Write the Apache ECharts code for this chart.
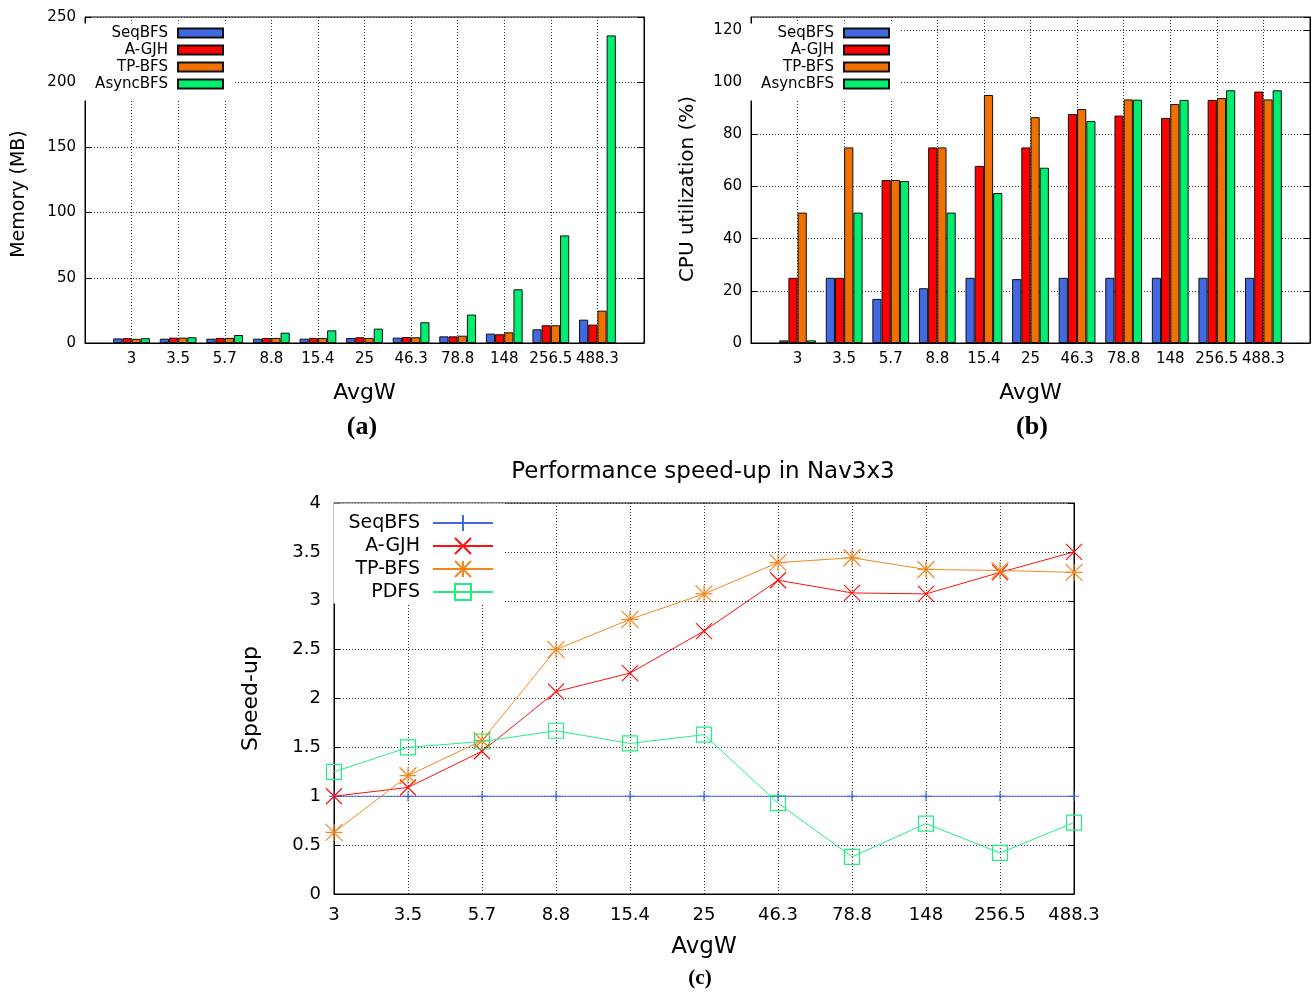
<!DOCTYPE html>
<html>
<head>
<meta charset="utf-8">
<script src="https://cdn.jsdelivr.net/npm/echarts@6/dist/echarts.min.js"></script>
<style>
  html, body { margin: 0; padding: 0; background: #fff; }
  #main { width: 1313px; height: 992px; }
</style>
</head>
<body>
<div id="main"></div>
<script>
// categories (AvgW)
var categories = ['3', '3.5', '5.7', '8.8', '15.4', '25', '46.3', '78.8', '148', '256.5', '488.3'];
var barNames = ['SeqBFS', 'A-GJH', 'TP-BFS', 'AsyncBFS'];
var lineNames = ['SeqBFS', 'A-GJH', 'TP-BFS', 'PDFS'];

// (a) memory, MB
var memSeq   = [3.5, 3.3, 3.3, 3.3, 3.3, 3.8, 4.1, 5.1, 7.2, 10.5, 17.9];
var memAgjh  = [3.7, 4.1, 3.9, 3.9, 3.9, 4.4, 4.6, 5.1, 6.7, 13.6, 14.1];
var memTp    = [3.2, 4.1, 3.9, 3.9, 3.9, 3.9, 4.4, 5.6, 8.2, 13.6, 24.8];
var memAsync = [3.7, 4.4, 6.1, 7.9, 9.7, 11.0, 15.9, 21.8, 41.2, 82.5, 235.9];

// (b) CPU utilization, %
var cpuSeq   = [1, 25, 16.9, 21, 25, 24.5, 25, 25, 25, 25, 25];
var cpuAgjh  = [25, 25, 62.5, 75, 67.9, 75, 87.8, 87.2, 86.3, 93.2, 96.4];
var cpuTp    = [50, 75, 62.5, 75, 95.1, 86.6, 89.7, 93.4, 91.6, 93.9, 93.4];
var cpuAsync = [1, 50, 62.1, 50, 57.5, 67.2, 85.1, 93.3, 93.2, 96.9, 96.9];

// (c) speed-up
var spSeq  = [1, 1, 1, 1, 1, 1, 1, 1, 1, 1, 1];
var spAgjh = [1.0, 1.09, 1.46, 2.07, 2.26, 2.69, 3.21, 3.08, 3.07, 3.29, 3.50];
var spTp   = [0.63, 1.21, 1.57, 2.50, 2.81, 3.07, 3.39, 3.44, 3.32, 3.31, 3.29];
var spPdfs = [1.25, 1.50, 1.56, 1.67, 1.54, 1.63, 0.93, 0.38, 0.72, 0.42, 0.73];

var barColors = ['#4169e1', '#ff0000', '#f07000', '#00ee6e'];
var lineColors = ['#4169e1', '#ff1010', '#f5861f', '#22ee80'];
var sans = 'DejaVu Sans';

var gridLine = { color: '#333', width: 1, type: [1, 2] };

// half-slot padding at both ends, like the gnuplot histogram
var padCats = [''].concat(categories, ['']);
function pad(arr) { return [null].concat(arr, [null]); }

function barX(gi) {
    return {
        gridIndex: gi, type: 'category', data: padCats, boundaryGap: false,
        axisLine: { lineStyle: { color: '#000' } },
        axisTick: { show: false },
        axisLabel: { interval: 0, fontSize: 15, color: '#000', margin: 9 },
        splitLine: { show: true, lineStyle: gridLine },
        name: 'AvgW', nameLocation: 'middle', nameGap: 39,
        nameTextStyle: { fontSize: 22, color: '#000' }
    };
}
function mainY(gi, max, step, name, gap, nameSize, labSize, margin) {
    return {
        gridIndex: gi, type: 'value', min: 0, max: max, interval: step,
        axisLine: { show: true, lineStyle: { color: '#000' } },
        axisTick: { show: true, inside: true, length: 6, lineStyle: { color: '#000' } },
        axisLabel: { fontSize: labSize, color: '#000', margin: margin, showMaxLabel: max % step === 0 },
        splitLine: { show: true, lineStyle: gridLine },
        name: name, nameLocation: 'middle', nameGap: gap,
        nameTextStyle: { fontSize: nameSize, color: '#000' }
    };
}
function mirrorY(gi, max, step) {
    return {
        gridIndex: gi, type: 'value', position: 'right', min: 0, max: max, interval: step,
        axisLine: { show: true, lineStyle: { color: '#000' } },
        axisTick: { show: true, inside: true, length: 6, lineStyle: { color: '#000' } },
        axisLabel: { show: false },
        splitLine: { show: false }
    };
}
function bars(gi, yi, list) {
    return list.map(function (vals, i) {
        return {
            type: 'bar', name: barNames[i], xAxisIndex: gi, yAxisIndex: yi,
            data: pad(vals), barGap: '0%', barCategoryGap: '21%',
            itemStyle: { color: barColors[i], borderColor: '#111', borderWidth: 1 },
            emphasis: { disabled: true }
        };
    });
}

var symbols = [
    'path://M0,5H10M5,0V10',
    'path://M0,0L10,10M10,0L0,10',
    'path://M0,0L10,10M10,0L0,10M0,5H10M5,0V10',
    'path://M0,0H10V10H0Z'
];
var symbolSizes = [10, 16, 17, 15];

var lineSeries = [spSeq, spAgjh, spTp, spPdfs].map(function (vals, i) {
    return {
        type: 'line', name: 'c.' + lineNames[i], xAxisIndex: 2, yAxisIndex: 4,
        data: vals, symbol: symbols[i], symbolSize: symbolSizes[i], showAllSymbol: true,
        lineStyle: { color: lineColors[i], width: 1 },
        itemStyle: { color: 'rgba(0,0,0,0)', borderColor: lineColors[i], borderWidth: 1.2 },
        emphasis: { disabled: true }, z: 2 + i
    };
});

function barLegend(right) {
    return {
        data: barNames, orient: 'vertical', align: 'right', right: right, top: 23.5,
        padding: [1, 9, 8, 13], itemGap: 0, itemWidth: 45, itemHeight: 9, icon: 'rect',
        backgroundColor: '#fff', selectedMode: false,
        textStyle: { fontSize: 15, color: '#000', lineHeight: 17, padding: [0, 5, 0, 0] }
    };
}

function label(text, x, y, font, rot) {
    return {
        type: 'text', x: x, y: y, rotation: rot || 0,
        style: { text: text, font: font, fill: '#000', align: 'center', verticalAlign: 'middle',
                 textAlign: 'center', textVerticalAlign: 'middle' }
    };
}

var chart = echarts.init(document.getElementById('main'));
var option = {
    animation: false,
    textStyle: { fontFamily: sans },
    grid: [
        { left: 85, top: 17, width: 559, height: 326, show: true, borderColor: '#000', borderWidth: 1 },
        { left: 751, top: 17, width: 559, height: 326, show: true, borderColor: '#000', borderWidth: 1 },
        { left: 334, top: 503, width: 740, height: 391, show: true, borderColor: '#000', borderWidth: 1 }
    ],
    xAxis: [
        barX(0),
        barX(1),
        {
            gridIndex: 2, type: 'category', data: categories, boundaryGap: false,
            axisLine: { lineStyle: { color: '#000' } },
            axisTick: { show: false },
            axisLabel: { interval: 0, fontSize: 18, color: '#000', margin: 12 },
            splitLine: { show: true, lineStyle: gridLine },
            name: 'AvgW', nameLocation: 'middle', nameGap: 42,
            nameTextStyle: { fontSize: 23, color: '#000' }
        }
    ],
    yAxis: [
        mainY(0, 250, 50, '', 53, 18, 15, 9),
        mirrorY(0, 250, 50),
        mainY(1, 125, 20, '', 54, 20, 15, 9),
        mirrorY(1, 125, 20),
        mainY(2, 4, 0.5, 'Speed-up', 72, 22, 18, 13),
        mirrorY(2, 4, 0.5)
    ],
    legend: [
        barLegend(1080),
        barLegend(414),
        {
            data: lineNames.map(function (n) { return 'c.' + n; }),
            formatter: function (n) { return n.slice(2); },
            orient: 'vertical', align: 'right', right: 808, top: 503.5,
            padding: [8, 11, 0, 15], itemGap: 0, itemWidth: 60, itemHeight: 20,
            backgroundColor: '#fff', selectedMode: false,
            textStyle: { fontSize: 19, color: '#000', lineHeight: 23, padding: [0, 8, 0, 0] }
        }
    ],
    series: bars(0, 0, [memSeq, memAgjh, memTp, memAsync])
        .concat(bars(1, 2, [cpuSeq, cpuAgjh, cpuTp, cpuAsync]))
        .concat(lineSeries),
    graphic: [
        label('Memory (MB)', 19, 194, '19px "DejaVu Sans"', Math.PI / 2),
        label('CPU utilization (%)', 688, 189, '20px "DejaVu Sans"', Math.PI / 2),
        label('(a)', 362, 427, 'bold 26px "Liberation Serif"'),
        label('(b)', 1032, 427, 'bold 26px "Liberation Serif"'),
        label('(c)', 700, 979, 'bold 21px "Liberation Serif"'),
        label('Performance speed-up in Nav3x3', 703, 472, '23px "DejaVu Sans"')
    ]
};
chart.setOption(option);
</script>
</body>
</html>
